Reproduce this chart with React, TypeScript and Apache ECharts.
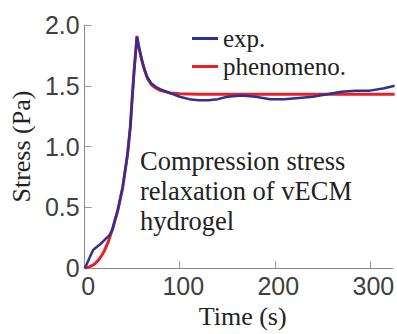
import React, { useEffect, useRef } from "react";
import * as echarts from "echarts";

const expTime = [0, 2, 6, 9, 12, 17, 22, 26, 29, 31, 35, 40, 45, 48, 50, 52, 55, 57, 60, 63, 66, 70, 75, 80, 90, 100, 110, 120, 130, 140, 150, 165, 180, 195, 210, 225, 240, 255, 270, 285, 300, 315, 326];
const expStress = [0, 0.03, 0.1, 0.15, 0.17, 0.2, 0.24, 0.27, 0.31, 0.37, 0.48, 0.67, 0.93, 1.16, 1.4, 1.62, 1.9, 1.82, 1.72, 1.63, 1.57, 1.52, 1.49, 1.47, 1.44, 1.41, 1.39, 1.38, 1.38, 1.39, 1.41, 1.42, 1.41, 1.39, 1.39, 1.4, 1.41, 1.43, 1.45, 1.46, 1.46, 1.48, 1.5];

const modelTime = [0, 5, 10, 15, 20, 25, 30, 35, 40, 45, 48, 50, 52, 55, 57, 60, 63, 66, 70, 75, 80, 90, 100, 120, 326];
const modelStress = [0, 0.01, 0.03, 0.07, 0.13, 0.22, 0.34, 0.48, 0.66, 0.93, 1.16, 1.4, 1.62, 1.91, 1.82, 1.71, 1.63, 1.56, 1.51, 1.48, 1.46, 1.44, 1.435, 1.43, 1.43];

const seriesNames = ["exp.", "phenomeno."];
const annotationLines = ["Compression stress", "relaxation of vECM", "hydrogel"];
const xTitle = "Time (s)";
const yTitle = "Stress (Pa)";

export default function App() {
  const ref = useRef<HTMLDivElement>(null);
  useEffect(() => {
    if (!ref.current) return;
    const chart = echarts.init(ref.current, undefined, { renderer: "svg" });
    const serif = "Liberation Serif";
    const sans = "Liberation Sans";
    chart.setOption({
      animation: false,
      backgroundColor: "#ffffff",
      grid: { left: 81, right: 0, top: 25, bottom: 57 },
      legend: {
        data: seriesNames,
        orient: "vertical",
        left: 187,
        top: 21,
        itemWidth: 26,
        itemHeight: 3,
        itemGap: 3,
        icon: "rect",
        textStyle: { fontFamily: serif, fontSize: 25, color: "#222", lineHeight: 25 },
      },
      xAxis: {
        type: "value",
        min: 0,
        max: 324,
        interval: 100,
        name: xTitle,
        nameLocation: "middle",
        nameGap: 31,
        nameTextStyle: { fontFamily: serif, fontSize: 26, color: "#222", padding: [0, 0, 0, 8] },
        axisLine: { show: true, lineStyle: { color: "#888", width: 1 } },
        axisTick: { show: true, inside: true, length: 7, lineStyle: { color: "#999" } },
        axisLabel: {
          showMaxLabel: false,
          fontFamily: sans,
          fontSize: 25,
          color: "#404040",
          margin: 5,
          padding: [0, 0, 0, 7],
        },
        splitLine: { show: false },
      },
      yAxis: {
        type: "value",
        min: 0,
        max: 2,
        interval: 0.5,
        name: yTitle,
        nameLocation: "middle",
        nameGap: 44,
        nameTextStyle: { fontFamily: serif, fontSize: 26, color: "#222" },
        axisLine: { show: true, lineStyle: { color: "#888", width: 1 } },
        axisTick: { show: true, inside: true, length: 7, lineStyle: { color: "#999" } },
        axisLabel: {
          fontFamily: sans,
          fontSize: 25,
          color: "#404040",
          margin: 5,
          padding: [6, 0, 0, 0],
          formatter: (v: number) => (v === 0 ? "0" : v.toFixed(1)),
        },
        splitLine: { show: false },
      },
      series: [
        {
          name: seriesNames[0],
          type: "line",
          data: expTime.map((t, i) => [t, expStress[i]]),
          showSymbol: false,
          symbol: "none",
          z: 3,
          lineStyle: { color: "#2e3192", width: 2.5 },
          itemStyle: { color: "#2e3192" },
        },
        {
          name: seriesNames[1],
          type: "line",
          data: modelTime.map((t, i) => [t, modelStress[i]]),
          showSymbol: false,
          symbol: "none",
          z: 2,
          lineStyle: { color: "#e8202a", width: 3 },
          itemStyle: { color: "#e8202a" },
        },
      ],
      graphic: [
        {
          type: "text",
          left: 140,
          top: 146,
          style: {
            text: annotationLines.join("\n"),
            fontFamily: serif,
            fontSize: 26.5,
            lineHeight: 30,
            fill: "#222",
          },
        },
      ],
    });
    return () => chart.dispose();
  }, []);
  return (
    <div
      ref={ref}
      style={{ position: "absolute", left: 0, top: 0, width: 397, height: 334 }}
    />
  );
}
